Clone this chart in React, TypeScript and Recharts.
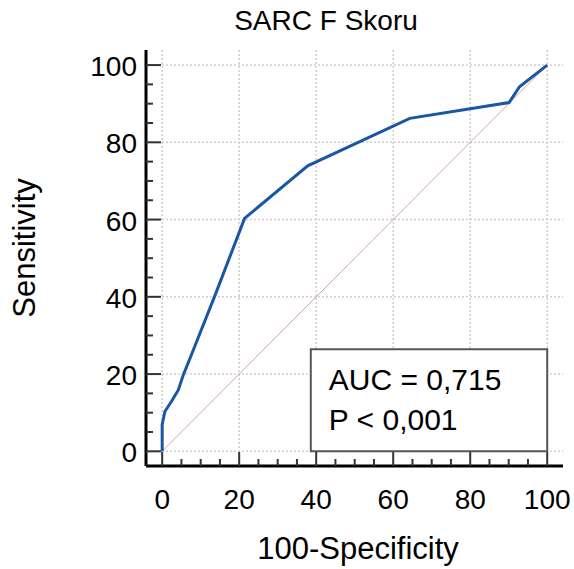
import React from 'react';
import {
  LineChart,
  Line,
  XAxis,
  YAxis,
  CartesianGrid,
  ReferenceLine,
  ReferenceArea,
} from 'recharts';

// ROC curve points
const falsePositiveRate = [0, 0, 0.7, 2.4, 4.2, 5.5, 7.6, 13.7, 21.4, 37.8, 64.3, 90.1, 92.8, 100];
const sensitivity = [0, 6.9, 10.3, 12.9, 15.9, 19.8, 25, 40.3, 60.3, 73.9, 86.2, 90.3, 94.4, 100];

const majorTicks = [0, 20, 40, 60, 80, 100];
const allTicks = [0, 5, 10, 15, 20, 25, 30, 35, 40, 45, 50, 55, 60, 65, 70, 75, 80, 85, 90, 95, 100];

const chartTitle = 'SARC F Skoru';
const xTitle = '100-Specificity';
const yTitle = 'Sensitivity';
const aucText = 'AUC = 0,715';
const pText = 'P < 0,001';
const statBox = { x1: 38.6, x2: 100, y1: 0, y2: 26.4 };

const data = falsePositiveRate.map((f, i) => ({ fpr: f, tpr: sensitivity[i] }));

const FONT = '"Liberation Sans", Arial, Helvetica, sans-serif';

const XTick = (props: any) => {
  const { x, y, payload } = props;
  const v = payload.value;
  const major = v % 20 === 0;
  return (
    <g>
      <line x1={x} x2={x} y1={y} y2={y - (major ? 14 : 7)} stroke="#333" strokeWidth={2} />
      {major && (
        <text x={x} y={y + 43} textAnchor="middle" fontSize={28} fill="#000" fontFamily={FONT}>
          {v}
        </text>
      )}
    </g>
  );
};

const YTick = (props: any) => {
  const { x, y, payload } = props;
  const v = payload.value;
  const major = v % 20 === 0;
  return (
    <g>
      <line x1={x} x2={x + (major ? 15 : 7)} y1={y} y2={y} stroke="#333" strokeWidth={2} />
      {major && (
        <text x={x - 9} y={y + 11} textAnchor="end" fontSize={28} fill="#000" fontFamily={FONT}>
          {v}
        </text>
      )}
    </g>
  );
};

const BoxLabel = (props: any) => {
  const vb = props.viewBox || {};
  const x = vb.x ?? 0;
  const y = vb.y ?? 0;
  return (
    <g>
      <text x={x + 18} y={y + 41} fontSize={30} fill="#000" fontFamily={FONT}>
        {aucText}
      </text>
      <text x={x + 18} y={y + 81} fontSize={30} fill="#000" fontFamily={FONT}>
        {pText}
      </text>
    </g>
  );
};

export default function App() {
  return (
    <div style={{ position: 'absolute', left: 0, top: 0, width: 574, height: 569, background: '#fff' }}>
      <LineChart
        width={574}
        height={569}
        data={data}
        margin={{ top: 50, right: 11, left: 0, bottom: 0 }}
      >
        <CartesianGrid
          stroke="#cfcfcf"
          strokeDasharray="2 2"
          strokeWidth={1.5}
          horizontalValues={majorTicks}
          verticalValues={majorTicks}
        />
        <XAxis
          dataKey="fpr"
          type="number"
          domain={[-4.2, 104.1]}
          ticks={allTicks}
          interval={0}
          tickSize={0}
          tickMargin={0}
          tickLine={false}
          tick={<XTick />}
          axisLine={{ stroke: '#000', strokeWidth: 3 }}
          height={103}
          allowDataOverflow
          label={(p: any) => (
            <text x={358} y={559} textAnchor="middle" fontSize={31} fill="#000" fontFamily={FONT}>
              {xTitle}
            </text>
          )}
        />
        <YAxis
          type="number"
          domain={[-3.8, 103.9]}
          ticks={allTicks}
          interval={0}
          tickSize={0}
          tickMargin={0}
          tickLine={false}
          tick={<YTick />}
          axisLine={{ stroke: '#000', strokeWidth: 3 }}
          width={146}
          allowDataOverflow
          label={(p: any) => (
            <text
              x={35}
              y={248}
              transform="rotate(-90, 35, 248)"
              textAnchor="middle"
              fontSize={31}
              fill="#000"
              fontFamily={FONT}
            >
              {yTitle}
            </text>
          )}
        />
        <ReferenceLine
          segment={[
            { x: 0, y: 0 },
            { x: 100, y: 100 },
          ]}
          stroke="#d6a3a3"
          strokeWidth={1}
        />
        <ReferenceArea
          x1={statBox.x1}
          x2={statBox.x2}
          y1={statBox.y1}
          y2={statBox.y2}
          fill="#fff"
          fillOpacity={1}
          stroke="#555"
          strokeWidth={2}
          label={<BoxLabel />}
        />
        <Line
          type="linear"
          dataKey="tpr"
          stroke="#1956a3"
          strokeWidth={3}
          dot={false}
          activeDot={false}
          isAnimationActive={false}
        />
        <text x={326} y={30} textAnchor="middle" fontSize={28} fill="#000" fontFamily={FONT}>
          {chartTitle}
        </text>
      </LineChart>
    </div>
  );
}
